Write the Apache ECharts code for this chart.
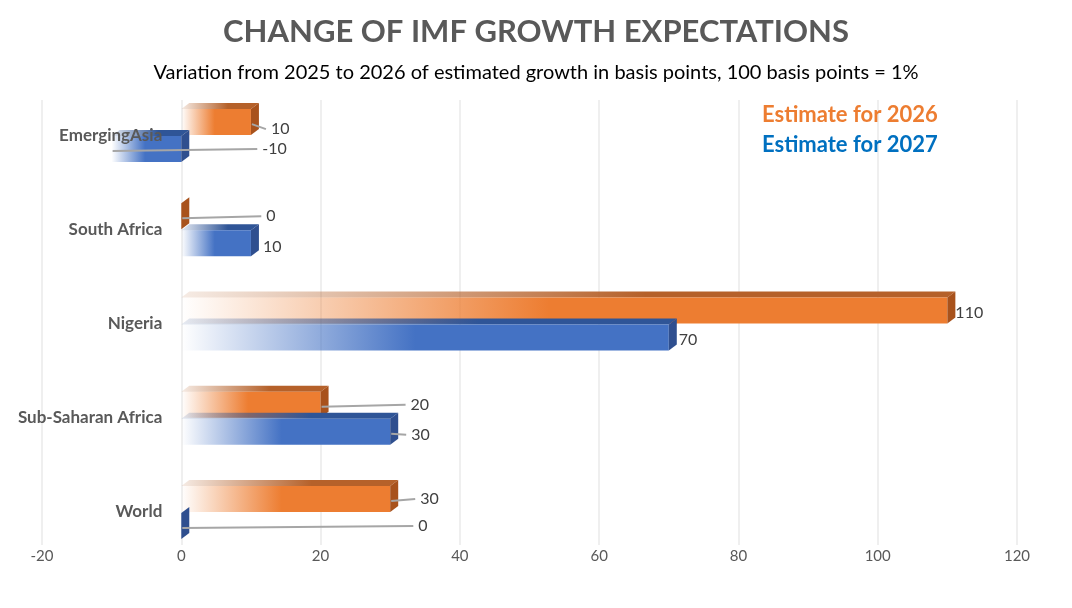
<!DOCTYPE html>
<html>
<head>
<meta charset="utf-8">
<title>Change of IMF growth expectations</title>
<script src="https://cdn.jsdelivr.net/npm/echarts@6/dist/echarts.min.js"></script>
<style>
  html, body { margin: 0; padding: 0; background: #fff; }
  #chart { width: 1072px; height: 608px; }
</style>
</head>
<body>
<div id="chart"></div>
<script>
// data (basis points)
const categories = ['EmergingAsia', 'South Africa', 'Nigeria', 'Sub-Saharan Africa', 'World'];
const estimate2026 = [10, 0, 110, 20, 30];
const estimate2027 = [-10, 10, 70, 30, 0];
const xTicks = { min: -20, max: 120, step: 20 };

// label placement (px from bar end), kept apart from the data
const labelShift2026 = [[20, 7], [85, 0], [8, 2], [90, 0], [30, 0]];
const labelShift2027 = [[81, 0], [12, 4], [10, 2], [21, 3], [237, 0]];

const FONT = 'Lato, "Open Sans", sans-serif';
const GRID_LEFT = 42;
const BAR_H = 26;
const DEPTH_X = 8;
const DEPTH_Y = 6;

const looks = [
  {
    front: '#ED7D31', frontFade: 'rgba(237,125,49,0)',
    top: '#B5612A', topFade: 'rgba(181,97,42,0.12)',
    side: '#A8521C'
  },
  {
    front: '#4472C4', frontFade: 'rgba(68,114,196,0)',
    top: '#2F5597', topFade: 'rgba(47,85,151,0.12)',
    side: '#2F4F8F'
  }
];

function fade(from, to, stop) {
  return new echarts.graphic.LinearGradient(0, 0, 1, 0, [
    { offset: 0, color: from },
    { offset: stop, color: to },
    { offset: 1, color: to }
  ]);
}

// one 3D looking bar: front face, top face, end face, plus its value label
function renderBar3D(params, api) {
  const s = params.seriesIndex;
  const look = looks[s];
  const value = api.value(0);
  const cat = api.value(1);
  const shift = (s === 0 ? labelShift2026 : labelShift2027)[params.dataIndex];

  const pLeft = api.coord([Math.min(0, value), cat]);
  const pRight = api.coord([Math.max(0, value), cat]);
  const pValue = api.coord([value, cat]);
  const yc = pLeft[1];
  const x0 = pLeft[0];
  const x1 = pRight[0];
  const y0 = s === 0 ? yc - BAR_H : yc + 1;
  const y1 = y0 + BAR_H;
  const w = x1 - x0;

  const children = [];
  if (w > 0.5) {
    children.push({
      type: 'polygon',
      shape: { points: [[x0, y0], [x0 + DEPTH_X, y0 - DEPTH_Y], [x1 + DEPTH_X, y0 - DEPTH_Y], [x1, y0]] },
      style: { fill: fade(look.topFade, look.top, 0.6) }
    });
    children.push({
      type: 'rect',
      shape: { x: x0, y: y0, width: w, height: BAR_H },
      style: { fill: fade(look.frontFade, look.front, 0.48) }
    });
  }
  children.push({
    type: 'polygon',
    shape: { points: [[x1, y0], [x1 + DEPTH_X, y0 - DEPTH_Y], [x1 + DEPTH_X, y1 - DEPTH_Y], [x1, y1]] },
    style: { fill: look.side }
  });

  const midY = (y0 + y1) / 2;
  const lx = x1 + shift[0];
  const ly = midY + shift[1];
  if (shift[0] > 15) {
    children.push({
      type: 'line',
      shape: { x1: pValue[0] + 1, y1: midY + 2, x2: lx - 5, y2: ly },
      style: { stroke: '#A6A6A6', lineWidth: 2 }
    });
  }
  children.push({
    type: 'text',
    z2: 5,
    style: {
      text: String(value),
      x: lx, y: ly,
      align: 'left', verticalAlign: 'middle',
      font: '16px ' + FONT,
      fill: '#404040'
    }
  });
  return { type: 'group', children: children };
}

const chart = echarts.init(document.getElementById('chart'));

const option = {
  backgroundColor: '#fff',
  animation: false,
  title: {
    text: 'CHANGE OF IMF GROWTH EXPECTATIONS',
    subtext: 'Variation from 2025 to 2026 of estimated growth in basis points, 100 basis points = 1%',
    left: 'center',
    top: 11,
    itemGap: 16,
    textStyle: { fontFamily: FONT, fontSize: 31, fontWeight: 'bold', color: '#595959' },
    subtextStyle: { fontFamily: FONT, fontSize: 20, color: '#000' }
  },
  legend: {
    orient: 'vertical',
    left: 752,
    top: 99,
    itemWidth: 0,
    itemHeight: 0,
    itemGap: 8,
    selectedMode: false,
    textStyle: { fontFamily: FONT, fontSize: 22, fontWeight: 'bold' },
    data: [
      { name: 'Estimate for 2026', icon: 'none', textStyle: { color: '#ED7D31' } },
      { name: 'Estimate for 2027', icon: 'none', textStyle: { color: '#0070C0' } }
    ]
  },
  grid: [
    { left: GRID_LEFT, right: 55, top: 88, bottom: 49, outerBoundsMode: 'none', containLabel: false },
    { left: GRID_LEFT, right: 55, top: 100, bottom: 63, outerBoundsMode: 'none', containLabel: false }
  ],
  xAxis: [
    {
      gridIndex: 0,
      type: 'value',
      min: xTicks.min, max: xTicks.max, interval: xTicks.step,
      show: false
    },
    {
      gridIndex: 1,
      type: 'value',
      min: xTicks.min, max: xTicks.max, interval: xTicks.step,
      axisLine: { show: false },
      axisTick: { show: false },
      splitLine: { lineStyle: { color: '#EAEAEA', width: 1.5 } },
      axisLabel: { margin: 4, fontFamily: FONT, fontSize: 15, color: '#595959' }
    }
  ],
  yAxis: [
    {
      gridIndex: 0,
      type: 'category',
      data: categories,
      inverse: true,
      z: 10,
      offset: 0,
      axisLine: { show: false },
      axisTick: { show: false },
      axisLabel: {
        margin: 19, padding: [6, 0, 0, 0],
        fontFamily: FONT, fontSize: 17, fontWeight: 'bold', color: '#595959'
      }
    },
    { gridIndex: 1, type: 'value', show: false }
  ],
  series: [
    {
      name: 'Estimate for 2026',
      type: 'custom',
      xAxisIndex: 0, yAxisIndex: 0,
      renderItem: renderBar3D,
      encode: { x: 0, y: 1 },
      data: estimate2026.map((v, i) => [v, i])
    },
    {
      name: 'Estimate for 2027',
      type: 'custom',
      xAxisIndex: 0, yAxisIndex: 0,
      renderItem: renderBar3D,
      encode: { x: 0, y: 1 },
      data: estimate2027.map((v, i) => [v, i])
    }
  ]
};

chart.setOption(option);

// category labels sit next to the zero line, as in the original
const zeroX = chart.convertToPixel({ xAxisIndex: 0 }, 0);
chart.setOption({ yAxis: [{ offset: -(zeroX - GRID_LEFT) }, {}] });
</script>
</body>
</html>
